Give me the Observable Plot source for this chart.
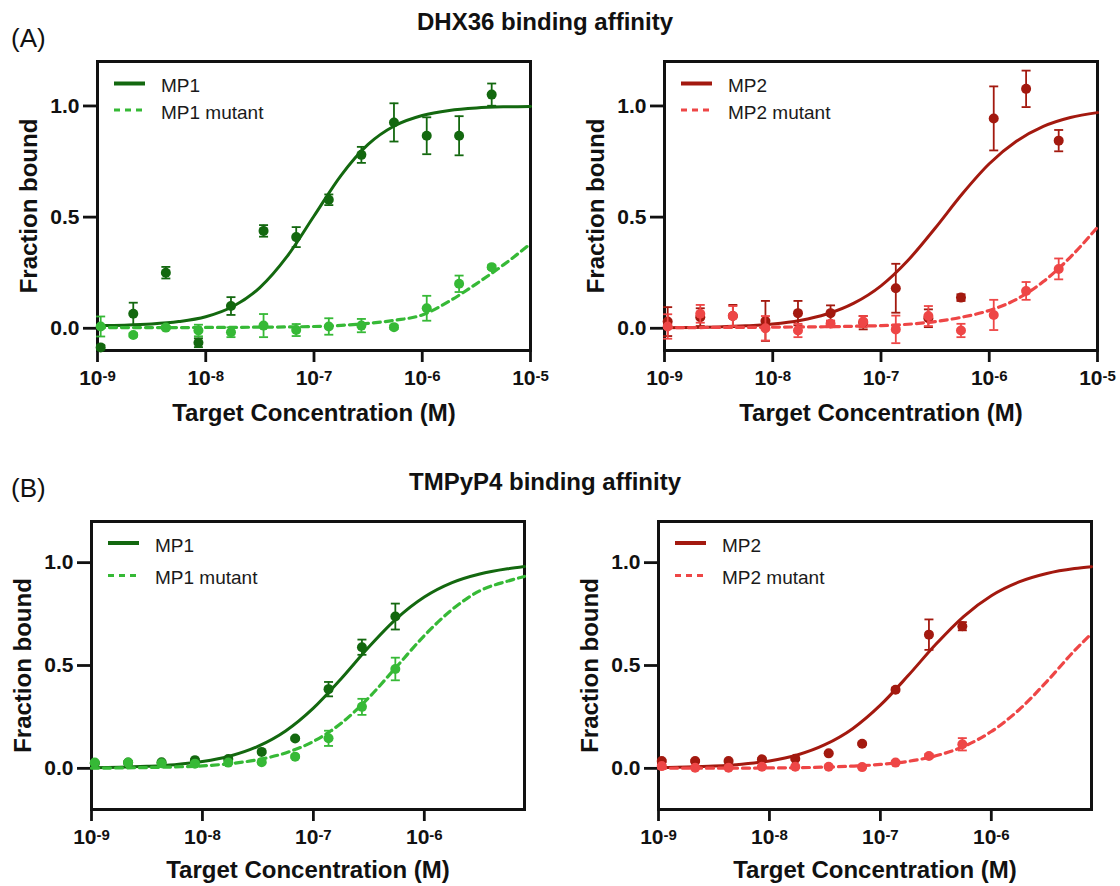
<!DOCTYPE html>
<html>
<head>
<meta charset="utf-8">
<script src="https://cdn.jsdelivr.net/npm/d3@7"></script>
<script src="https://cdn.jsdelivr.net/npm/@observablehq/plot@0.6"></script>
<style>
  html, body { margin: 0; padding: 0; background: #fff; }
  #wrap { position: relative; width: 1120px; height: 886px; overflow: hidden; font-family: "Liberation Sans", Arial, sans-serif; background: #fff; }
  .panel { position: absolute; width: 560px; z-index: 1; }
  .title { position: absolute; left: 0; width: 1090px; text-align: center; font-weight: bold; font-size: 24px; line-height: 24px; color: #111; z-index: 2; }
  .tag { position: absolute; left: 11px; font-size: 26px; line-height: 26px; color: #111; z-index: 2; }
</style>
</head>
<body>
<div id="wrap">
  <div class="title" style="top:10px">DHX36 binding affinity</div>
  <div class="tag" style="top:25px">(A)</div>
  <div class="title" style="top:470px">TMPyP4 binding affinity</div>
  <div class="tag" style="top:475px">(B)</div>
  <div class="panel" id="pA1" style="left:0;top:40px"></div>
  <div class="panel" id="pA2" style="left:560px;top:40px"></div>
  <div class="panel" id="pB1" style="left:0;top:500px"></div>
  <div class="panel" id="pB2" style="left:560px;top:500px"></div>
</div>
<script>
// ---------- data ----------
const concA = [1.07e-9, 2.14e-9, 4.28e-9, 8.56e-9, 1.71e-8, 3.42e-8, 6.85e-8, 1.37e-7, 2.74e-7, 5.48e-7, 1.1e-6, 2.19e-6, 4.38e-6];
const concB = [1.07e-9, 2.14e-9, 4.28e-9, 8.56e-9, 1.71e-8, 3.42e-8, 6.85e-8, 1.37e-7, 2.74e-7, 5.48e-7];

// DHX36 – MP1 / MP1 mutant
const dhxMP1     = [-0.086, 0.065, 0.25, -0.065, 0.10, 0.438, 0.41, 0.578, 0.78, 0.926, 0.866, 0.866, 1.051];
const dhxMP1Err  = [0.01, 0.05, 0.026, 0.02, 0.04, 0.026, 0.045, 0.024, 0.036, 0.086, 0.083, 0.088, 0.05];
const dhxMP1m    = [0.008, -0.03, 0.003, -0.01, -0.018, 0.012, -0.008, 0.008, 0.012, 0.005, 0.09, 0.2, 0.275];
const dhxMP1mErr = [0.045, 0.008, 0.008, 0.026, 0.022, 0.052, 0.027, 0.037, 0.03, 0.008, 0.056, 0.037, 0.008];
// DHX36 – MP2 / MP2 mutant
const dhxMP2     = [0.03, 0.05, 0.055, 0.033, 0.068, 0.068, 0.025, 0.18, 0.045, 0.138, 0.944, 1.077, 0.844];
const dhxMP2Err  = [0.065, 0.04, 0.05, 0.09, 0.055, 0.035, 0.03, 0.11, 0.04, 0.015, 0.144, 0.082, 0.048];
const dhxMP2m    = [0.008, 0.065, 0.055, 0.0, -0.01, 0.02, 0.03, -0.005, 0.055, -0.01, 0.06, 0.168, 0.267];
const dhxMP2mErr = [0.055, 0.04, 0.045, 0.055, 0.03, 0.015, 0.025, 0.062, 0.045, 0.03, 0.068, 0.04, 0.047];
// TMPyP4 – MP1 / MP1 mutant
const tmpMP1     = [0.025, 0.028, 0.03, 0.04, 0.045, 0.08, 0.145, 0.385, 0.589, 0.738];
const tmpMP1Err  = [0.005, 0.005, 0.005, 0.005, 0.005, 0.005, 0.005, 0.035, 0.037, 0.063];
const tmpMP1m    = [0.028, 0.028, 0.025, 0.023, 0.028, 0.03, 0.057, 0.146, 0.299, 0.483];
const tmpMP1mErr = [0.005, 0.005, 0.005, 0.005, 0.005, 0.005, 0.005, 0.037, 0.039, 0.055];
// TMPyP4 – MP2 / MP2 mutant
const tmpMP2     = [0.036, 0.036, 0.036, 0.044, 0.047, 0.073, 0.12, 0.382, 0.65, 0.691];
const tmpMP2Err  = [0.005, 0.005, 0.005, 0.005, 0.005, 0.005, 0.005, 0.008, 0.074, 0.02];
const tmpMP2m    = [0.011, 0.003, 0.003, 0.008, 0.008, 0.008, 0.006, 0.028, 0.06, 0.117];
const tmpMP2mErr = [0.005, 0.005, 0.005, 0.005, 0.005, 0.005, 0.005, 0.005, 0.01, 0.03];

// fitted curves
const fitXA = [1e-9, 1.78e-9, 3.16e-9, 5.62e-9, 1e-8, 1.78e-8, 3.16e-8, 5.62e-8, 1e-7, 1.78e-7, 3.16e-7, 5.62e-7, 1e-6, 1.78e-6, 3.16e-6, 5.62e-6, 1e-5];
const fitXB = [1e-9, 1.78e-9, 3.16e-9, 5.62e-9, 1e-8, 1.78e-8, 3.16e-8, 5.62e-8, 1e-7, 1.78e-7, 3.16e-7, 5.62e-7, 1e-6, 1.78e-6, 3.16e-6, 5.62e-6, 8e-6];
const fitDhxMP1  = [0.012, 0.014, 0.019, 0.030, 0.052, 0.098, 0.183, 0.322, 0.505, 0.688, 0.827, 0.912, 0.957, 0.980, 0.991, 0.996, 0.998];
const fitDhxMP1m = [0.003, 0.003, 0.003, 0.003, 0.004, 0.004, 0.005, 0.006, 0.008, 0.013, 0.022, 0.036, 0.060, 0.122, 0.200, 0.285, 0.380];
const fitDhxMP2  = [0.002, 0.003, 0.006, 0.011, 0.019, 0.035, 0.064, 0.113, 0.191, 0.306, 0.450, 0.604, 0.740, 0.841, 0.908, 0.948, 0.970];
const fitDhxMP2m = [0.003, 0.003, 0.004, 0.004, 0.005, 0.006, 0.007, 0.009, 0.012, 0.018, 0.030, 0.050, 0.080, 0.130, 0.210, 0.320, 0.455];
const fitTmpMP1  = [0.003, 0.005, 0.010, 0.018, 0.033, 0.060, 0.107, 0.182, 0.293, 0.436, 0.590, 0.728, 0.833, 0.903, 0.945, 0.970, 0.981];
const fitTmpMP1m = [0.001, 0.002, 0.004, 0.007, 0.012, 0.023, 0.042, 0.075, 0.131, 0.219, 0.344, 0.494, 0.645, 0.772, 0.863, 0.910, 0.933];
const fitTmpMP2  = [0.003, 0.006, 0.011, 0.020, 0.036, 0.065, 0.115, 0.193, 0.307, 0.451, 0.603, 0.738, 0.839, 0.906, 0.947, 0.971, 0.980];
const fitTmpMP2m = [0.000, 0.001, 0.001, 0.001, 0.002, 0.003, 0.006, 0.011, 0.019, 0.034, 0.061, 0.106, 0.179, 0.285, 0.422, 0.572, 0.655];

const ticksA = [1e-9, 1e-8, 1e-7, 1e-6, 1e-5];
const ticksB = [1e-9, 1e-8, 1e-7, 1e-6];
const yTicks = [0, 0.5, 1.0];

const C = { mp1: "#13680f", mp1m: "#36b936", mp2: "#a3190f", mp2m: "#ee4646" };

// ---------- helpers ----------
const rows = (xs, ys, es) => xs.map((x, i) => ({x, y: ys[i], e: es ? es[i] : 0}));
const capSymbol = { draw(ctx) { ctx.moveTo(-4.5, 0); ctx.lineTo(4.5, 0); } };

function seriesMarks(pts, fit, color, dashed) {
  return [
    Plot.line(fit, {x: "x", y: "y", curve: "monotone-x", stroke: color, strokeWidth: dashed ? 3.2 : 3,
      strokeDasharray: dashed ? "7,5" : null}),
    Plot.ruleX(pts, {x: "x", y1: d => d.y - d.e, y2: d => d.y + d.e, stroke: color, strokeWidth: 1.8}),
    Plot.dot(pts, {x: "x", y: d => d.y + d.e, symbol: capSymbol, stroke: color, fill: "none", strokeWidth: 1.8}),
    Plot.dot(pts, {x: "x", y: d => d.y - d.e, symbol: capSymbol, stroke: color, fill: "none", strokeWidth: 1.8}),
    Plot.dot(pts, {x: "x", y: "y", r: 5, fill: color, stroke: "none"})
  ];
}

function legendMark(items, pos) {
  return (index, scales, values, dims) => {
    const g = d3.create("svg:g");
    items.forEach((it, i) => {
      const ly = dims.marginTop + pos[i].line;
      g.append("line")
        .attr("x1", dims.marginLeft + 17).attr("x2", dims.marginLeft + 48)
        .attr("y1", ly).attr("y2", ly)
        .attr("stroke", it.color).attr("stroke-width", it.dashed ? 3 : 4)
        .attr("stroke-dasharray", it.dashed ? "6,5" : null);
      g.append("text")
        .attr("x", dims.marginLeft + 64).attr("y", dims.marginTop + pos[i].text)
        .attr("text-anchor", "start")
        .attr("font-size", 19).attr("font-weight", "normal").attr("fill", "#1a1a1a")
        .text(it.label);
    });
    return g.node();
  };
}

function superscripts(svg) {
  svg.querySelectorAll("text").forEach(t => {
    const m = t.textContent.match(/^10\^(-?\d+)$/);
    if (m) {
      t.textContent = "10";
      const ts = document.createElementNS("http://www.w3.org/2000/svg", "tspan");
      ts.setAttribute("dy", "-4");
      ts.setAttribute("font-size", "15px");
      ts.textContent = m[1];
      t.appendChild(ts);
    }
  });
}

function panel(el, cfg) {
  const svg = Plot.plot({
    width: 560,
    height: cfg.height,
    marginLeft: cfg.ml, marginRight: cfg.mr, marginTop: cfg.mt, marginBottom: cfg.mb,
    style: {fontFamily: "'Liberation Sans', Arial, sans-serif", fontSize: "21px", fontWeight: "bold", color: "#111", background: "transparent"},
    x: {type: "log", domain: cfg.xDomain},
    y: {domain: cfg.yDomain},
    marks: [
      Plot.frame({stroke: "#111", strokeWidth: 3}),
      Plot.axisY({ticks: yTicks, tickFormat: d3.format(".1f"), tickSize: 14, tickPadding: 4, label: null,
        strokeWidth: 2.8, stroke: "#111", fill: "#111", fontSize: 21, fontWeight: "bold"}),
      Plot.axisX({ticks: cfg.xTicks, tickFormat: d => "10^" + Math.round(Math.log10(d)), tickSize: 12, tickPadding: 8, label: null,
        strokeWidth: 2.8, stroke: "#111", fill: "#111", fontSize: 21, fontWeight: "bold"}),
      Plot.text(["Fraction bound"], {text: d => d, frameAnchor: "left", dx: -68, rotate: -90, textAnchor: "middle", lineAnchor: "middle", fontSize: 24, fontWeight: "bold", fill: "#111"}),
      Plot.text(["Target Concentration (M)"], {text: d => d, frameAnchor: "bottom", dy: cfg.xlabDy, textAnchor: "middle", lineAnchor: "middle", fontSize: 24, fontWeight: "bold", fill: "#111"}),
      ...seriesMarks(cfg.dark, cfg.darkFit, cfg.darkColor, false),
      ...seriesMarks(cfg.light, cfg.lightFit, cfg.lightColor, true),
      legendMark([
        {label: cfg.darkLabel, color: cfg.darkColor, dashed: false},
        {label: cfg.lightLabel, color: cfg.lightColor, dashed: true}
      ], cfg.legendPos)
    ]
  });
  superscripts(svg);
  document.getElementById(el).appendChild(svg);
  return svg;
}

const legA = [{line: 22.5, text: 30.5}, {line: 49, text: 58}];
const legB = [{line: 22, text: 31}, {line: 54.5, text: 63}];

panel("pA1", {
  height: 400, ml: 97, mr: 30, mt: 21, mb: 90, xlabDy: 63,
  xDomain: [1e-9, 1e-5], xTicks: ticksA, yDomain: [-0.1, 1.2],
  dark: rows(concA, dhxMP1, dhxMP1Err), darkFit: rows(fitXA, fitDhxMP1), darkColor: C.mp1, darkLabel: "MP1",
  light: rows(concA, dhxMP1m, dhxMP1mErr), lightFit: rows(fitXA, fitDhxMP1m), lightColor: C.mp1m, lightLabel: "MP1 mutant",
  legendPos: legA
});
panel("pA2", {
  height: 400, ml: 104, mr: 23, mt: 21, mb: 90, xlabDy: 63,
  xDomain: [1e-9, 1e-5], xTicks: ticksA, yDomain: [-0.1, 1.2],
  dark: rows(concA, dhxMP2, dhxMP2Err), darkFit: rows(fitXA, fitDhxMP2), darkColor: C.mp2, darkLabel: "MP2",
  light: rows(concA, dhxMP2m, dhxMP2mErr), lightFit: rows(fitXA, fitDhxMP2m), lightColor: C.mp2m, lightLabel: "MP2 mutant",
  legendPos: legA
});
panel("pB1", {
  height: 386, ml: 91, mr: 36, mt: 21, mb: 77, xlabDy: 61,
  xDomain: [1e-9, 8e-6], xTicks: ticksB, yDomain: [-0.2, 1.2],
  dark: rows(concB, tmpMP1, tmpMP1Err), darkFit: rows(fitXB, fitTmpMP1), darkColor: C.mp1, darkLabel: "MP1",
  light: rows(concB, tmpMP1m, tmpMP1mErr), lightFit: rows(fitXB, fitTmpMP1m), lightColor: C.mp1m, lightLabel: "MP1 mutant",
  legendPos: legB
});
panel("pB2", {
  height: 386, ml: 98, mr: 29, mt: 21, mb: 77, xlabDy: 61,
  xDomain: [1e-9, 8e-6], xTicks: ticksB, yDomain: [-0.2, 1.2],
  dark: rows(concB, tmpMP2, tmpMP2Err), darkFit: rows(fitXB, fitTmpMP2), darkColor: C.mp2, darkLabel: "MP2",
  light: rows(concB, tmpMP2m, tmpMP2mErr), lightFit: rows(fitXB, fitTmpMP2m), lightColor: C.mp2m, lightLabel: "MP2 mutant",
  legendPos: legB
});
</script>
</body>
</html>
